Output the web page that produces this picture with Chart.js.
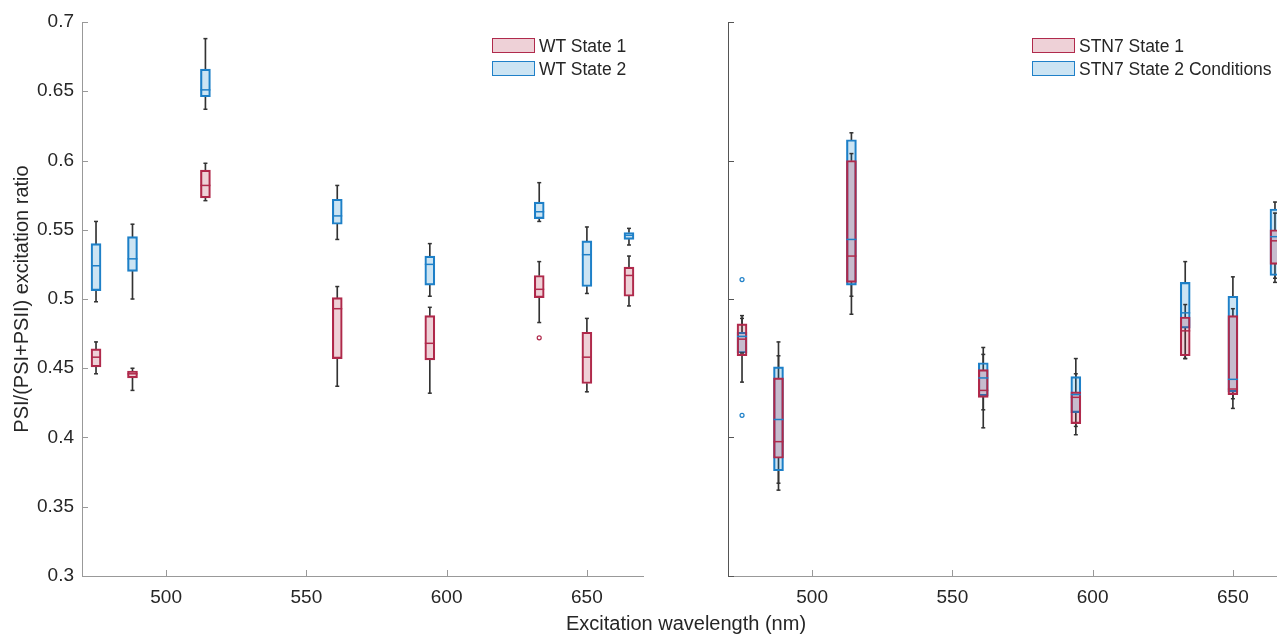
<!DOCTYPE html>
<html>
<head>
<meta charset="utf-8">
<title>PSI/(PSI+PSII) excitation ratio</title>
<script src="https://cdn.jsdelivr.net/npm/chart.js@4.4.1/dist/chart.umd.min.js"></script>
<style>
    html, body { margin: 0; padding: 0; background: #fff; overflow: hidden; }
    #wrap {
        position: relative; width: 1277px; height: 637px; overflow: hidden;
        font-family: "Liberation Sans", Arial, sans-serif; color: #262626;
    }
    canvas { position: absolute; top: 0; }
    #leftChart { left: 0; }
    #rightChart { left: 646px; }
    .legend { position: absolute; top: 38px; font-size: 17.5px; }
    .legend div { position: relative; height: 23px; line-height: 16px; padding-left: 47px; white-space: nowrap; }
    .legend span { position: absolute; left: 0; top: 0; width: 41px; height: 13px; border: 1.5px solid; }
    #xTitle { position: absolute; left: 486px; width: 400px; top: 612px; text-align: center; font-size: 20px; }
</style>
</head>
<body>
<div id="wrap">
    <canvas id="leftChart" width="660" height="637"></canvas>
    <canvas id="rightChart" width="660" height="637"></canvas>
    <div class="legend" id="leftLegend" style="left:492px"></div>
    <div class="legend" id="rightLegend" style="left:1032px"></div>
    <div id="xTitle">Excitation wavelength (nm)</div>
</div>
<script>
// Excitation wavelengths (nm)
const wavelengths = [475, 488, 514, 561, 594, 633, 650, 665];
const xTickValues = [500, 550, 600, 650];
const yTickLeft = [0.3, 0.35, 0.4, 0.45, 0.5, 0.55, 0.6, 0.65, 0.7];
const yTickRight = [0.3, 0.4, 0.5, 0.6, 0.7];

// box summaries per wavelength: [low whisker, q1, median, q3, high whisker]
const wtState1 = [
    [0.446, 0.451, 0.458, 0.464, 0.469],
    [0.434, 0.443, 0.446, 0.448, 0.450],
    [0.571, 0.573, 0.582, 0.593, 0.598],
    [0.437, 0.457, 0.493, 0.501, 0.509],
    [0.432, 0.456, 0.468, 0.488, 0.494],
    [0.483, 0.501, 0.507, 0.517, 0.527],
    [0.433, 0.439, 0.458, 0.476, 0.486],
    [0.495, 0.502, 0.517, 0.523, 0.531]
];
const wtState2 = [
    [0.498, 0.506, 0.524, 0.540, 0.556],
    [0.500, 0.520, 0.529, 0.545, 0.554],
    [0.637, 0.646, 0.651, 0.666, 0.688],
    [0.543, 0.554, 0.560, 0.572, 0.582],
    [0.502, 0.510, 0.525, 0.531, 0.540],
    [0.556, 0.558, 0.563, 0.570, 0.584],
    [0.504, 0.509, 0.532, 0.542, 0.552],
    [0.539, 0.543, 0.546, 0.548, 0.551]
];
const stn7State1 = [
    [0.440, 0.459, 0.471, 0.482, 0.486],
    [0.367, 0.385, 0.397, 0.443, 0.459],
    [0.502, 0.512, 0.531, 0.600, 0.605],
    [0.407, 0.429, 0.434, 0.449, 0.460],
    [0.402, 0.410, 0.429, 0.433, 0.446],
    [0.457, 0.459, 0.477, 0.487, 0.496],
    [0.421, 0.431, 0.435, 0.488, 0.493],
    [0.515, 0.525, 0.542, 0.550, 0.562]
];
const stn7State2 = [
    [0.461, 0.461, 0.473, 0.476, 0.488],
    [0.362, 0.376, 0.413, 0.451, 0.469],
    [0.489, 0.510, 0.543, 0.615, 0.620],
    [0.420, 0.430, 0.443, 0.454, 0.465],
    [0.408, 0.418, 0.431, 0.444, 0.457],
    [0.457, 0.479, 0.490, 0.512, 0.527],
    [0.428, 0.433, 0.442, 0.502, 0.516],
    [0.512, 0.517, 0.545, 0.565, 0.570]
];
// outliers as [wavelength, value]
const wtState1Outliers = [[633, 0.472]];
const wtState2Outliers = [];
const stn7State1Outliers = [];
const stn7State2Outliers = [[475, 0.514], [475, 0.416]];

const redLine = '#B02A4C', redFill = 'rgba(170,25,55,0.2)';
const blueLine = '#1F80C8', blueFill = 'rgba(0,120,195,0.2)';
const whiskerColor = '#333';
const textColor = '#262626';
const fontFamily = '"Liberation Sans", Arial, sans-serif';

// boxplot pieces for one group: whiskers, box, median, caps, outliers
function boxDatasets(summary, outliers, lineColor, fillColor) {
    const at = (i, k) => summary[i][k];
    return [
        {
            type: 'bar', grouped: false, order: 3, barThickness: 1,
            backgroundColor: whiskerColor, borderWidth: 0,
            data: wavelengths.map((w, i) => ({ x: w, y: [at(i, 3), at(i, 4)] }))
        },
        {
            type: 'bar', grouped: false, order: 3, barThickness: 1,
            backgroundColor: whiskerColor, borderWidth: 0,
            data: wavelengths.map((w, i) => ({ x: w, y: [at(i, 0), at(i, 1)] }))
        },
        {
            type: 'bar', grouped: false, order: 2, barThickness: 10,
            backgroundColor: fillColor, borderColor: lineColor,
            borderWidth: 1.5, borderSkipped: false,
            data: wavelengths.map((w, i) => ({ x: w, y: [at(i, 1), at(i, 3)] }))
        },
        {
            type: 'scatter', order: 1, pointStyle: 'line', pointRadius: 5,
            pointBorderColor: lineColor, pointBorderWidth: 1.5,
            data: wavelengths.map((w, i) => ({ x: w, y: at(i, 2) }))
        },
        {
            type: 'scatter', order: 1, pointStyle: 'line', pointRadius: 2,
            pointBorderColor: whiskerColor, pointBorderWidth: 1.5,
            data: wavelengths.flatMap((w, i) => [{ x: w, y: at(i, 0) }, { x: w, y: at(i, 4) }])
        },
        {
            type: 'scatter', order: 1, pointStyle: 'circle', pointRadius: 2,
            pointBorderColor: lineColor, pointBorderWidth: 1.2,
            pointBackgroundColor: 'rgba(0,0,0,0)',
            data: outliers.map(o => ({ x: o[0], y: o[1] }))
        }
    ];
}

// MATLAB style ticks pointing into the axes
const inwardTicks = {
    id: 'inwardTicks',
    afterDraw(chart, args, opts) {
        const { ctx, chartArea, scales } = chart;
        const len = 6;
        ctx.save();
        ctx.lineWidth = 1;
        ctx.strokeStyle = opts.xColor;
        scales.x.ticks.forEach(t => {
            const px = Math.round(scales.x.getPixelForValue(t.value)) + 0.5;
            ctx.beginPath();
            ctx.moveTo(px, chartArea.bottom);
            ctx.lineTo(px, chartArea.bottom - len);
            ctx.stroke();
        });
        ctx.strokeStyle = opts.yColor;
        scales.y.ticks.forEach(t => {
            const py = Math.round(scales.y.getPixelForValue(t.value)) + 0.5;
            ctx.beginPath();
            ctx.moveTo(chartArea.left, py);
            ctx.lineTo(chartArea.left + len, py);
            ctx.stroke();
        });
        ctx.restore();
    }
};

function makeChart(id, seriesA, outA, seriesB, outB, yTicks, showYLabels, yColor) {
    const ctx = document.getElementById(id).getContext('2d');
    return new Chart(ctx, {
        type: 'bar',
        data: {
            datasets: [
                ...boxDatasets(seriesA, outA, redLine, redFill),
                ...boxDatasets(seriesB, outB, blueLine, blueFill)
            ]
        },
        options: {
            responsive: false,
            animation: false,
            devicePixelRatio: 1,
            layout: { padding: { top: 22, right: 17, left: 0, bottom: 0 } },
            plugins: {
                legend: { display: false },
                tooltip: { enabled: false },
                inwardTicks: { xColor: '#999', yColor: yColor }
            },
            scales: {
                x: {
                    type: 'linear', min: 470, max: 670, offset: false,
                    afterBuildTicks: s => { s.ticks = xTickValues.map(v => ({ value: v })); },
                    afterFit: s => { s.height = 61; },
                    grid: { display: false, drawTicks: false },
                    border: { display: true, color: '#999', width: 1 },
                    ticks: {
                        padding: 10, color: textColor, autoSkip: false, maxRotation: 0,
                        font: { family: fontFamily, size: 19 },
                        callback: v => String(v)
                    }
                },
                y: {
                    type: 'linear', min: 0.3, max: 0.7,
                    afterBuildTicks: s => { s.ticks = yTicks.map(v => ({ value: v })); },
                    afterFit: s => { s.width = 82; },
                    grid: { display: false, drawTicks: false },
                    border: { display: true, color: yColor, width: 1 },
                    ticks: {
                        display: showYLabels, padding: 8, color: textColor,
                        font: { family: fontFamily, size: 19 },
                        callback: v => String(+v.toFixed(2))
                    },
                    title: {
                        display: showYLabels,
                        text: 'PSI/(PSI+PSII) excitation ratio',
                        color: textColor,
                        font: { family: fontFamily, size: 20 },
                        padding: { top: 10, bottom: 0 }
                    }
                }
            }
        },
        plugins: [inwardTicks]
    });
}

function buildLegend(id, labels) {
    const box = document.getElementById(id);
    const styles = [[redLine, redFill], [blueLine, blueFill]];
    labels.forEach((text, i) => {
        const row = document.createElement('div');
        const sw = document.createElement('span');
        sw.style.borderColor = styles[i][0];
        sw.style.background = styles[i][1];
        row.appendChild(sw);
        row.appendChild(document.createTextNode(text));
        box.appendChild(row);
    });
}

makeChart('leftChart', wtState1, wtState1Outliers, wtState2, wtState2Outliers, yTickLeft, true, '#999');
makeChart('rightChart', stn7State1, stn7State1Outliers, stn7State2, stn7State2Outliers, yTickRight, false, '#555');
buildLegend('leftLegend', ['WT State 1', 'WT State 2']);
buildLegend('rightLegend', ['STN7 State 1', 'STN7 State 2 Conditions']);
</script>
</body>
</html>
